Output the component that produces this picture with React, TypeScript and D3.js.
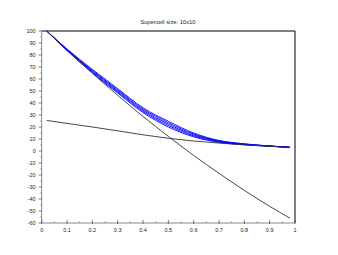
import React from "react";
import * as d3 from "d3";

const title = "Supercell size: 10x10";
const xs = [0.02, 0.1, 0.2, 0.3, 0.4, 0.5, 0.6, 0.7, 0.8, 0.9, 0.98];
const steep = [100, 84, 64.8, 46.4, 28.8, 12.2, -3.7, -18.6, -32.8, -46.1, -56];
const gentle = [25.5, 23, 20, 16.8, 13.5, 10.6, 8.3, 6.6, 5.1, 3.9, 3];
const blue1 = [100, 83.6, 65, 48.3, 32, 20, 11.8, 7.2, 5.2, 4, 3];
const blue2 = [100, 84, 65.8, 49.2, 33, 21.2, 12.6, 7.6, 5.4, 4.05, 3.02];
const blue3 = [100, 84.3, 66.5, 50.1, 34, 22.4, 13.4, 8.0, 5.6, 4.1, 3.04];
const blue4 = [100, 84.6, 67.2, 51, 35, 23.6, 14.2, 8.4, 5.8, 4.15, 3.06];
const blue5 = [100, 85, 68, 52, 36, 24.8, 15, 8.8, 6, 4.2, 3.08];
const blueSeries = [blue1, blue2, blue3, blue4, blue5];
const xTicks = [0, 0.1, 0.2, 0.3, 0.4, 0.5, 0.6, 0.7, 0.8, 0.9, 1];
const xTickLabels = ["0", "0.1", "0.2", "0.3", "0.4", "0.5", "0.6", "0.7", "0.8", "0.9", "1"];
const yTicks = [100, 90, 80, 70, 60, 50, 40, 30, 20, 10, 0, -10, -20, -30, -40, -50, -60];

export default function App() {
  const x = d3.scaleLinear().domain([0, 1]).range([41.7, 295]);
  const y = d3.scaleLinear().domain([-60, 100]).range([223, 31]);
  const line = (vals: number[]) =>
    d3
      .line<number>()
      .x((_, i) => x(xs[i]))
      .y((v) => y(v))
      .curve(d3.curveMonotoneX)(vals) || "";
  const xMinor = d3.range(0.05, 1, 0.1);
  const yMinor = d3.range(-55, 100, 10);
  const font = "'Liberation Sans', Arial, sans-serif";
  const axisColor = "#7a8f8f";
  return (
    <svg width={338} height={255} style={{ position: "absolute", left: 0, top: 0, background: "#fff" }}>
      <text x={168} y={24} fontSize={5.8} fontFamily={font} textAnchor="middle" fill="#222">
        {title}
      </text>
      {/* frame */}
      <line x1={x(0)} x2={x(1)} y1={y(100)} y2={y(100)} stroke="#000" strokeWidth={1} />
      <line x1={x(1)} x2={x(1)} y1={y(100)} y2={y(-60)} stroke="#000" strokeWidth={1} />
      {/* left axis */}
      <line x1={x(0)} x2={x(0)} y1={y(100)} y2={y(-60)} stroke={axisColor} strokeWidth={1} />
      {yTicks.map((t) => (
        <g key={"y" + t}>
          <line x1={x(0) - 3} x2={x(0)} y1={y(t)} y2={y(t)} stroke="#555" strokeWidth={0.8} />
          <text x={x(0) - 6} y={y(t) + 2} fontSize={5.5} fontFamily={font} textAnchor="end" fill="#222">
            {t}
          </text>
        </g>
      ))}
      {yMinor.map((t) => (
        <line key={"ym" + t} x1={x(0) - 1.8} x2={x(0)} y1={y(t)} y2={y(t)} stroke="#777" strokeWidth={0.6} />
      ))}
      {/* bottom axis */}
      <line x1={x(0)} x2={x(1)} y1={y(-60)} y2={y(-60)} stroke={axisColor} strokeWidth={1.2} />
      {xTicks.map((t, i) => (
        <g key={"x" + t}>
          <line x1={x(t)} x2={x(t)} y1={y(-60) - 3} y2={y(-60) + 1} stroke="#555" strokeWidth={0.8} />
          <text x={x(t)} y={y(-60) + 9} fontSize={5.5} fontFamily={font} textAnchor="middle" fill="#222">
            {xTickLabels[i]}
          </text>
        </g>
      ))}
      {xMinor.map((t) => (
        <line key={"xm" + t} x1={x(t)} x2={x(t)} y1={y(-60) - 1.8} y2={y(-60)} stroke="#777" strokeWidth={0.6} />
      ))}
      {/* curves */}
      {blueSeries.map((s, i) => (
        <path key={"b" + i} d={line(s)} fill="none" stroke="#0000ff" strokeWidth={0.9} />
      ))}
      <path d={line(steep)} fill="none" stroke="#333" strokeWidth={0.9} />
      <path d={line(gentle)} fill="none" stroke="#333" strokeWidth={0.9} />
    </svg>
  );
}
